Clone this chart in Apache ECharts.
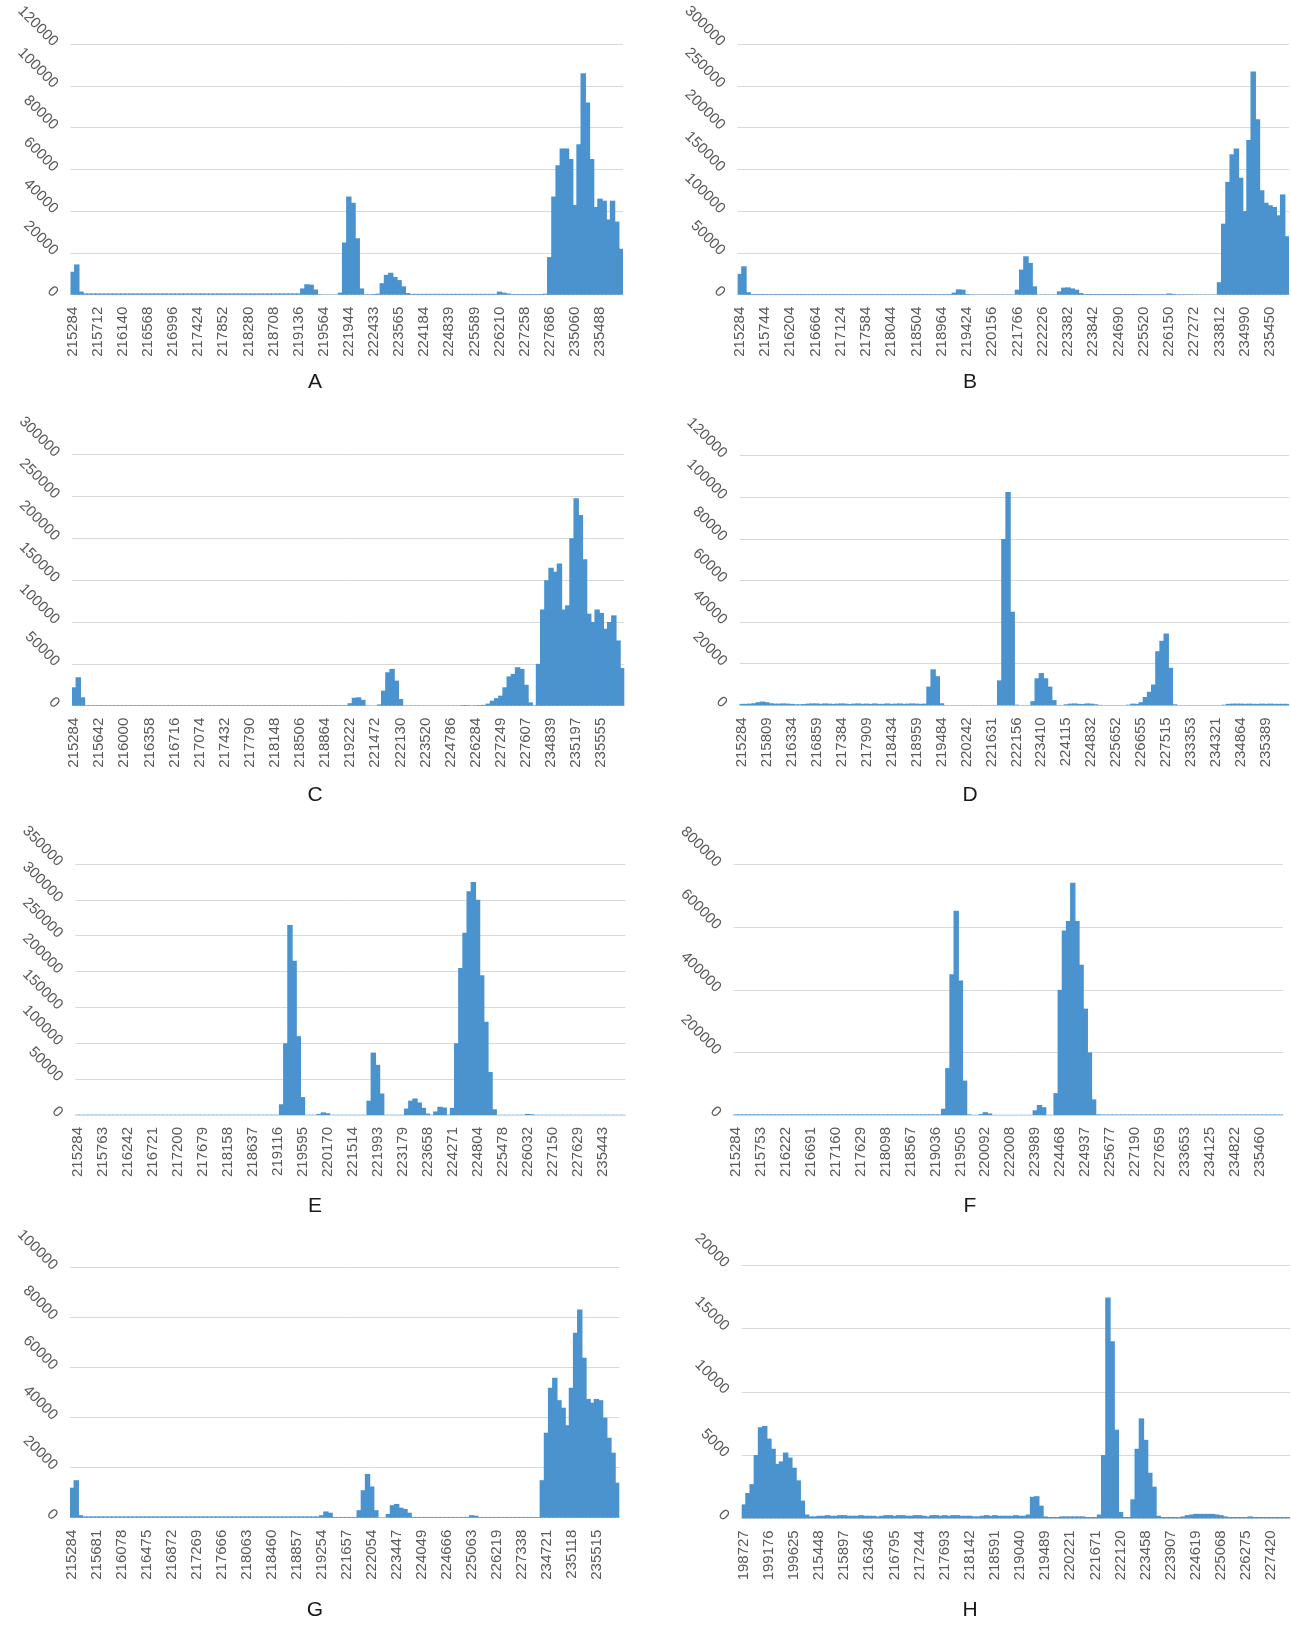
<!DOCTYPE html>
<html>
<head>
<meta charset="utf-8">
<script src="https://cdn.jsdelivr.net/npm/echarts@6/dist/echarts.min.js"></script>
<style>
  html, body { margin: 0; padding: 0; background: #fff; }
  #chart { width: 1291px; height: 1625px; }
</style>
</head>
<body>
<div id="chart"></div>
<script>
// x tick labels, one per 6 bins
const ticksA = [215284, 215712, 216140, 216568, 216996, 217424, 217852, 218280, 218708, 219136, 219564, 221944, 222433, 223565, 224184, 224839, 225589, 226210, 227258, 227686, 235060, 235488];
const ticksB = [215284, 215744, 216204, 216664, 217124, 217584, 218044, 218504, 218964, 219424, 220156, 221766, 222226, 223382, 223842, 224690, 225520, 226150, 227272, 233812, 234990, 235450];
const ticksC = [215284, 215642, 216000, 216358, 216716, 217074, 217432, 217790, 218148, 218506, 218864, 219222, 221472, 222130, 223520, 224786, 226284, 227249, 227607, 234839, 235197, 235555];
const ticksD = [215284, 215809, 216334, 216859, 217384, 217909, 218434, 218959, 219484, 220242, 221631, 222156, 223410, 224115, 224832, 225652, 226655, 227515, 233353, 234321, 234864, 235389];
const ticksE = [215284, 215763, 216242, 216721, 217200, 217679, 218158, 218637, 219116, 219595, 220170, 221514, 221993, 223179, 223658, 224271, 224804, 225478, 226032, 227150, 227629, 235443];
const ticksF = [215284, 215753, 216222, 216691, 217160, 217629, 218098, 218567, 219036, 219505, 220092, 222008, 223989, 224468, 224937, 225677, 227190, 227659, 233653, 234125, 234822, 235460];
const ticksG = [215284, 215681, 216078, 216475, 216872, 217269, 217666, 218063, 218460, 218857, 219254, 221657, 222054, 223447, 224049, 224666, 225063, 226219, 227338, 234721, 235118, 235515];
const ticksH = [198727, 199176, 199625, 215448, 215897, 216346, 216795, 217244, 217693, 218142, 218591, 219040, 219489, 220221, 221671, 222120, 223458, 223907, 224619, 225068, 226275, 227420];

// bar heights, 6 bins per tick label
const valuesA = [
  11000, 14500, 1500, 600, 600, 600,
  600, 600, 600, 600, 600, 600,
  600, 600, 600, 600, 600, 600,
  600, 600, 600, 600, 600, 600,
  600, 600, 600, 600, 600, 600,
  600, 600, 600, 600, 600, 600,
  600, 600, 600, 600, 600, 600,
  600, 600, 600, 600, 600, 600,
  600, 600, 600, 600, 600, 600,
  600, 3000, 5000, 4800, 2500, 200,
  100, 100, 100, 100, 1000, 25000,
  47000, 44000, 27000, 3000, 200, 200,
  300, 500, 5500, 9500, 10500, 8500,
  7000, 4000, 800, 400, 400, 400,
  400, 400, 400, 400, 400, 400,
  400, 400, 400, 400, 400, 400,
  400, 400, 400, 400, 400, 400,
  1500, 1000, 600, 300, 300, 300,
  300, 300, 300, 300, 300, 500,
  18000, 47000, 62000, 70000, 70000, 65000,
  43000, 72000, 106000, 92000, 65000, 42000,
  46000, 45000, 36000, 45000, 35000, 22000
];
const valuesB = [
  25000, 34000, 3000, 700, 700, 700,
  700, 700, 700, 700, 700, 700,
  700, 700, 700, 700, 700, 700,
  700, 700, 700, 700, 700, 700,
  700, 700, 700, 700, 700, 700,
  700, 700, 700, 700, 700, 700,
  700, 700, 700, 700, 700, 700,
  700, 700, 700, 700, 700, 700,
  700, 700, 700, 2500, 6400, 6000,
  800, 300, 300, 300, 300, 300,
  300, 300, 300, 300, 300, 300,
  6000, 30000, 46000, 38000, 10000, 300,
  300, 300, 300, 300, 4000, 8500,
  8800, 7500, 6000, 2000, 800, 800,
  800, 800, 800, 800, 800, 800,
  800, 800, 800, 800, 800, 800,
  600, 600, 600, 600, 600, 600,
  1500, 1000, 500, 500, 500, 500,
  300, 300, 300, 300, 300, 300,
  15000, 85000, 135000, 168000, 175000, 140000,
  100000, 185000, 267000, 210000, 125000, 110000,
  107000, 105000, 95000, 120000, 70000
];
const valuesC = [
  22000, 34000, 10000, 600, 600, 600,
  600, 600, 600, 600, 600, 600,
  600, 600, 600, 600, 600, 600,
  600, 600, 600, 600, 600, 600,
  600, 600, 600, 600, 600, 600,
  600, 600, 600, 600, 600, 600,
  600, 600, 600, 600, 600, 600,
  600, 600, 600, 600, 600, 600,
  600, 600, 600, 600, 600, 600,
  600, 600, 600, 600, 600, 600,
  600, 600, 600, 600, 600, 600,
  3000, 9500, 10000, 7000, 300, 100,
  100, 1500, 18000, 40000, 44000, 30000,
  8000, 300, 300, 300, 300, 300,
  300, 300, 300, 300, 300, 300,
  300, 300, 300, 800, 800, 300,
  500, 800, 1000, 2500, 6000, 9000,
  12000, 22000, 35000, 38000, 46000, 44000,
  25000, 4000, 500, 50000, 115000, 150000,
  165000, 160000, 170000, 115000, 120000, 200000,
  248000, 228000, 175000, 110000, 100000, 115000,
  111000, 92000, 100000, 108000, 78000, 45000
];
const valuesD = [
  700, 700, 800, 1000, 1500, 1800,
  1500, 1000, 800, 800, 900, 800,
  700, 500, 500, 600, 800, 900,
  900, 700, 900, 800, 700, 800,
  900, 800, 600, 800, 900, 700,
  800, 700, 900, 700, 700, 900,
  700, 800, 900, 700, 800, 900,
  800, 700, 800, 9000, 17300, 14000,
  1000, 100, 100, 100, 100, 100,
  100, 100, 100, 100, 100, 100,
  100, 100, 12000, 80000, 102500, 45000,
  300, 100, 100, 100, 2000, 13000,
  15500, 13000, 9000, 2500, 100, 100,
  500, 800, 900, 700, 600, 900,
  800, 500, 200, 100, 100, 100,
  100, 100, 100, 300, 800, 700,
  1500, 4000, 6500, 10000, 26000, 31000,
  34500, 18000, 500, 100, 100, 100,
  100, 100, 100, 100, 100, 100,
  100, 100, 300, 700, 800, 800,
  800, 700, 800, 700, 700, 800,
  700, 800, 700, 700, 700, 700
];
const valuesE = [
  400, 400, 400, 400, 400, 400,
  400, 400, 400, 400, 400, 400,
  400, 400, 400, 400, 400, 400,
  400, 400, 400, 400, 400, 400,
  400, 400, 400, 400, 400, 400,
  400, 400, 400, 400, 400, 400,
  400, 400, 400, 400, 400, 400,
  400, 400, 400, 400, 400, 400,
  400, 15000, 100000, 265000, 215000, 110000,
  25000, 300, 300, 300, 1500, 3700,
  2500, 300, 300, 300, 300, 300,
  300, 300, 300, 300, 20000, 87000,
  70000, 30000, 300, 300, 300, 300,
  300, 9000, 20000, 23000, 17500, 10000,
  2000, 300, 5000, 11500, 10500, 500,
  10000, 100000, 205000, 254000, 312000, 325000,
  300000, 195000, 130000, 60000, 8000, 300,
  300, 300, 300, 300, 300, 300,
  1500, 1000, 300, 300, 300, 300,
  300, 300, 300, 300, 300, 300,
  300, 300, 300, 300, 300, 300,
  300, 300, 300, 300, 300, 300
];
const valuesF = [
  2000, 2000, 2000, 2000, 2000, 2000,
  2000, 2000, 2000, 2000, 2000, 2000,
  2000, 2000, 2000, 2000, 2000, 2000,
  2000, 2000, 2000, 2000, 2000, 2000,
  2000, 2000, 2000, 2000, 2000, 2000,
  2000, 2000, 2000, 2000, 2000, 2000,
  2000, 2000, 2000, 2000, 2000, 2000,
  2000, 2000, 2000, 2000, 2000, 2000,
  2000, 2000, 20000, 150000, 450000, 653000,
  430000, 110000, 2000, 500, 500, 3000,
  9000, 5000, 500, 500, 500, 500,
  500, 500, 500, 500, 500, 500,
  15000, 32000, 25000, 500, 500, 70000,
  400000, 590000, 620000, 742000, 620000, 480000,
  340000, 200000, 50000, 2000, 1500, 1500,
  1500, 1500, 1500, 1500, 1500, 1500,
  1500, 1500, 1500, 1500, 1500, 1500,
  1500, 1500, 1500, 1500, 1500, 1500,
  1500, 1500, 1500, 1500, 1500, 1500,
  1500, 1500, 1500, 1500, 1500, 1500,
  1500, 1500, 1500, 1500, 1500, 1500,
  1500, 1500, 1500, 1500, 1500, 1500
];
const valuesG = [
  12000, 15000, 1000, 500, 500, 500,
  500, 500, 500, 500, 500, 500,
  500, 500, 500, 500, 500, 500,
  500, 500, 500, 500, 500, 500,
  500, 500, 500, 500, 500, 500,
  500, 500, 500, 500, 500, 500,
  500, 500, 500, 500, 500, 500,
  500, 500, 500, 500, 500, 500,
  500, 500, 500, 500, 500, 500,
  500, 500, 500, 500, 500, 500,
  1000, 2500, 2000, 300, 300, 300,
  300, 300, 300, 3000, 11000, 17500,
  12500, 3000, 100, 100, 1500, 5000,
  5500, 4000, 3500, 2000, 300, 300,
  300, 300, 300, 300, 300, 300,
  300, 300, 300, 300, 300, 300,
  1000, 800, 300, 300, 300, 300,
  300, 300, 300, 300, 300, 300,
  300, 300, 300, 300, 300, 15000,
  34000, 52000, 56000, 47000, 44000, 37000,
  52000, 74000, 83300, 64000, 47500, 46000,
  47500, 47000, 40000, 32000, 26000, 14000
];
const valuesH = [
  1100, 2000, 2700, 5000, 7200, 7300,
  6300, 5500, 4300, 4500, 5200, 4800,
  4000, 3000, 1400, 300, 150, 150,
  200, 200, 250, 200, 200, 250,
  250, 200, 200, 200, 250, 200,
  200, 200, 150, 200, 250, 250,
  200, 250, 250, 200, 200, 250,
  250, 200, 150, 250, 250, 200,
  250, 200, 250, 250, 200, 200,
  200, 150, 150, 200, 250, 200,
  250, 200, 200, 200, 200, 250,
  200, 200, 300, 1700, 1750, 1000,
  150, 100, 100, 100, 150, 150,
  150, 150, 150, 150, 100, 100,
  100, 300, 5000, 17450, 14000, 7000,
  500, 100, 100, 1500, 5500, 7900,
  6200, 3600, 2500, 200, 100, 100,
  100, 100, 100, 150, 250, 300,
  350, 350, 350, 350, 350, 300,
  250, 150, 100, 100, 100, 100,
  100, 150, 100, 100, 100, 100,
  100, 100, 100, 100, 100
];

const panels = [
  { name: 'A', ticks: ticksA, values: valuesA, max: 120000, step: 20000 },
  { name: 'B', ticks: ticksB, values: valuesB, max: 300000, step: 50000 },
  { name: 'C', ticks: ticksC, values: valuesC, max: 300000, step: 50000 },
  { name: 'D', ticks: ticksD, values: valuesD, max: 120000, step: 20000 },
  { name: 'E', ticks: ticksE, values: valuesE, max: 350000, step: 50000 },
  { name: 'F', ticks: ticksF, values: valuesF, max: 800000, step: 200000 },
  { name: 'G', ticks: ticksG, values: valuesG, max: 100000, step: 20000 },
  { name: 'H', ticks: ticksH, values: valuesH, max: 20000, step: 5000 }
];

// plot boxes [left, top, right, bottom] and letter positions, in px
const boxes = [
  [70.5, 44, 623, 294.7], [737.6, 44, 1289, 294.7],
  [72, 454.7, 624.3, 705.7], [739.6, 455.7, 1289, 705.3],
  [75.3, 864, 625.5, 1115], [733.5, 864.7, 1283, 1115],
  [70, 1267.7, 619.3, 1517.7], [741.7, 1265.3, 1290, 1518.3]
];
const letterPos = [[315, 382], [970, 382], [315, 795], [970, 795], [315, 1206], [970, 1206], [315, 1610], [970, 1610]];

const chart = echarts.init(document.getElementById('chart'));

const grid = [], xAxis = [], yAxis = [], series = [], graphic = [];
panels.forEach((p, i) => {
  const b = boxes[i];
  grid.push({ left: b[0], top: b[1], width: b[2] - b[0], height: b[3] - b[1] });
  // one category per bin; only the first bin of each group carries the label
  const cats = p.values.map((v, j) => j % 6 === 0 ? String(p.ticks[j / 6]) : p.ticks[Math.floor(j / 6)] + '_' + (j % 6));
  xAxis.push({
    type: 'category',
    gridIndex: i,
    data: cats,
    axisTick: { show: false },
    axisLine: { lineStyle: { color: '#d9d9d9', width: 1 } },
    axisLabel: { interval: 5, rotate: 90, margin: 12, fontSize: 15, color: '#595959' }
  });
  yAxis.push({
    type: 'value',
    gridIndex: i,
    min: 0,
    max: p.max,
    interval: p.step,
    axisLine: { show: false },
    axisTick: { show: false },
    splitLine: { lineStyle: { color: '#d9d9d9', width: 1 } },
    axisLabel: { rotate: -45, margin: 15, fontSize: 15, color: '#595959', formatter: (v) => String(v) }
  });
  series.push({
    type: 'bar',
    xAxisIndex: i,
    yAxisIndex: i,
    data: p.values,
    // slightly wider than the band so neighbouring bins overlap and no seams show
    barWidth: '130%',
    silent: true,
    itemStyle: { color: '#4a93cf' }
  });
  graphic.push({
    type: 'text',
    x: letterPos[i][0],
    y: letterPos[i][1],
    style: { text: p.name, align: 'center', verticalAlign: 'middle', fontSize: 21, fill: '#1a1a1a', fontFamily: 'Liberation Sans' }
  });
});

chart.setOption({
  animation: false,
  textStyle: { fontFamily: 'Liberation Sans' },
  grid: grid,
  xAxis: xAxis,
  yAxis: yAxis,
  series: series,
  graphic: graphic
});
</script>
</body>
</html>
